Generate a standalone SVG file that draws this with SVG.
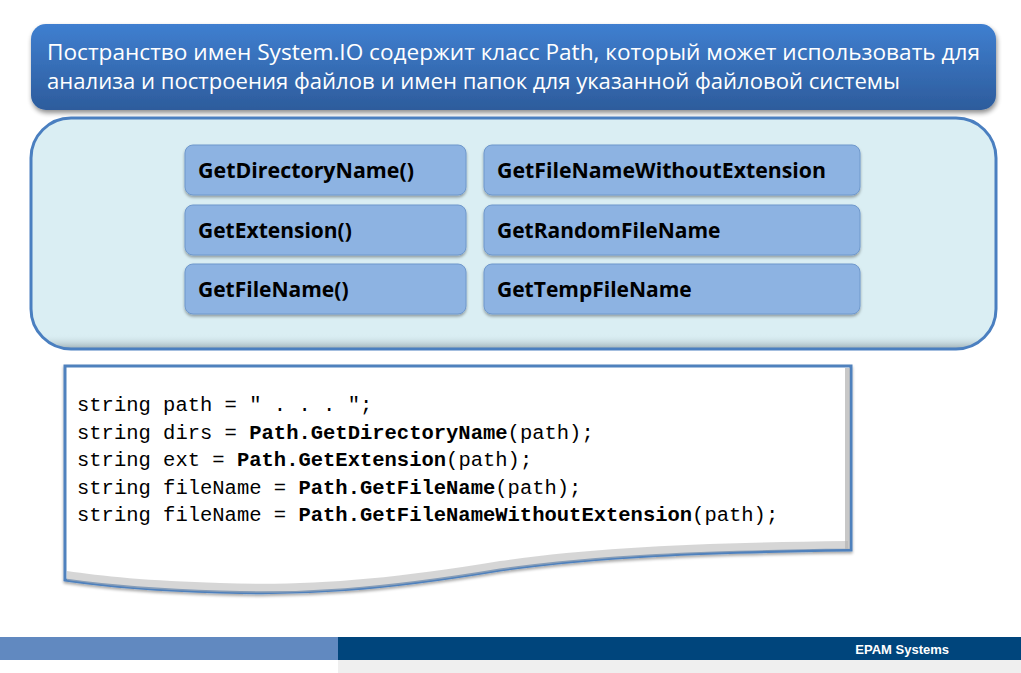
<svg xmlns="http://www.w3.org/2000/svg" width="1021" height="673" viewBox="0 0 1021 673">
<defs>
<linearGradient id="gTop" x1="0" y1="0" x2="0" y2="1">
<stop offset="0" stop-color="#3f7fd0"/>
<stop offset="1" stop-color="#2d5c9c"/>
</linearGradient>
<filter id="sh" x="-5%" y="-10%" width="110%" height="125%">
<feGaussianBlur in="SourceAlpha" stdDeviation="2.5"/>
<feOffset dx="1" dy="3" result="b"/>
<feComponentTransfer><feFuncA type="linear" slope="0.45"/></feComponentTransfer>
<feMerge><feMergeNode/><feMergeNode in="SourceGraphic"/></feMerge>
</filter>
<filter id="shs" x="-5%" y="-10%" width="110%" height="130%">
<feGaussianBlur in="SourceAlpha" stdDeviation="1.5"/>
<feOffset dx="0" dy="2" result="b"/>
<feComponentTransfer><feFuncA type="linear" slope="0.35"/></feComponentTransfer>
<feMerge><feMergeNode/><feMergeNode in="SourceGraphic"/></feMerge>
</filter>
<linearGradient id="gInB" x1="0" y1="0" x2="0" y2="1">
<stop offset="0" stop-color="#daeef3" stop-opacity="0"/>
<stop offset="1" stop-color="#7f8f96" stop-opacity="0.7"/>
</linearGradient>
<clipPath id="pc"><rect x="31" y="118" width="965" height="231" rx="40"/></clipPath>
</defs>
<style>
.m{fill:#8db3e2;stroke:#6f98cc;stroke-width:1}
.mt{font-family:"Open Sans","Liberation Sans",sans-serif;font-weight:bold;font-size:21px;fill:#000}
.code{font-family:"Liberation Mono",monospace;font-size:20.5px;fill:#000}
.b{font-weight:bold}
</style>
<rect width="1021" height="673" fill="#ffffff"/>

<g id="header">
<rect x="31" y="24" width="965" height="86" rx="15" fill="url(#gTop)" filter="url(#sh)"/>
<text x="47" y="60" font-family="Open Sans, Liberation Sans, sans-serif" font-size="21" fill="#ffffff" textLength="933" lengthAdjust="spacingAndGlyphs">Постранство имен System.IO содержит класс Path, который может использовать для</text>
<text x="47" y="89" font-family="Open Sans, Liberation Sans, sans-serif" font-size="21" fill="#ffffff" textLength="853" lengthAdjust="spacingAndGlyphs">анализа и построения файлов и имен папок для указанной файловой системы</text>
</g>

<g id="panel">
<rect x="31" y="118" width="965" height="231" rx="40" fill="#daeef3"/>
<rect x="31" y="334" width="965" height="15" fill="url(#gInB)" clip-path="url(#pc)"/>
<rect x="31" y="118" width="965" height="231" rx="40" fill="none" stroke="#4a7fc0" stroke-width="3"/>
</g>

<g id="m1"><rect class="m" x="185" y="145" width="281" height="50" rx="8" filter="url(#shs)"/><text class="mt" x="198" y="178" textLength="216" lengthAdjust="spacingAndGlyphs">GetDirectoryName()</text></g>
<g id="m2"><rect class="m" x="185" y="205" width="281" height="50" rx="8" filter="url(#shs)"/><text class="mt" x="198" y="238">GetExtension()</text></g>
<g id="m3"><rect class="m" x="185" y="264" width="281" height="50" rx="8" filter="url(#shs)"/><text class="mt" x="198" y="297">GetFileName()</text></g>
<g id="m4"><rect class="m" x="484" y="145" width="376" height="50" rx="8" filter="url(#shs)"/><text class="mt" x="497" y="178" textLength="329" lengthAdjust="spacingAndGlyphs">GetFileNameWithoutExtension</text></g>
<g id="m5"><rect class="m" x="484" y="205" width="376" height="50" rx="8" filter="url(#shs)"/><text class="mt" x="497" y="238">GetRandomFileName</text></g>
<g id="m6"><rect class="m" x="484" y="264" width="376" height="50" rx="8" filter="url(#shs)"/><text class="mt" x="497" y="297">GetTempFileName</text></g>

<g id="code">
<path d="M65,366 H851 V550 C700,552 600,556 500,570 C380,590 300,595 220,592 C150,590 100,585 65,580 Z" fill="#ffffff" stroke="#4f81bd" stroke-width="3" filter="url(#shs)"/>
<path d="M845,368 H850 V549 H845 Z" fill="#b0b0b0" opacity="0.7"/>
<path d="M67,571 C100,576 150,581 220,583 C300,586 380,581 500,561 C600,547 700,543 848,541 V549 C700,552 600,556 500,570 C380,590 300,595 220,592 C150,590 100,585 67,580 Z" fill="#b5b5b5" opacity="0.55"/>
<text class="code" x="77" y="411">string path = " . . . ";</text>
<text class="code" x="77" y="439">string dirs = <tspan class="b">Path.GetDirectoryName</tspan>(path);</text>
<text class="code" x="77" y="466">string ext = <tspan class="b">Path.GetExtension</tspan>(path);</text>
<text class="code" x="77" y="494">string fileName = <tspan class="b">Path.GetFileName</tspan>(path);</text>
<text class="code" x="77" y="521">string fileName = <tspan class="b">Path.GetFileNameWithoutExtension</tspan>(path);</text>
</g>

<g id="footer">
<rect x="0" y="637" width="338" height="23" fill="#6189c0"/>
<rect x="338" y="637" width="683" height="23" fill="#00457c"/>
<rect x="338" y="660" width="683" height="13" fill="#efefef"/>
<text x="949" y="654" text-anchor="end" font-family="Liberation Sans, Arial, sans-serif" font-weight="bold" font-size="13" fill="#ffffff">EPAM Systems</text>
</g>
</svg>
